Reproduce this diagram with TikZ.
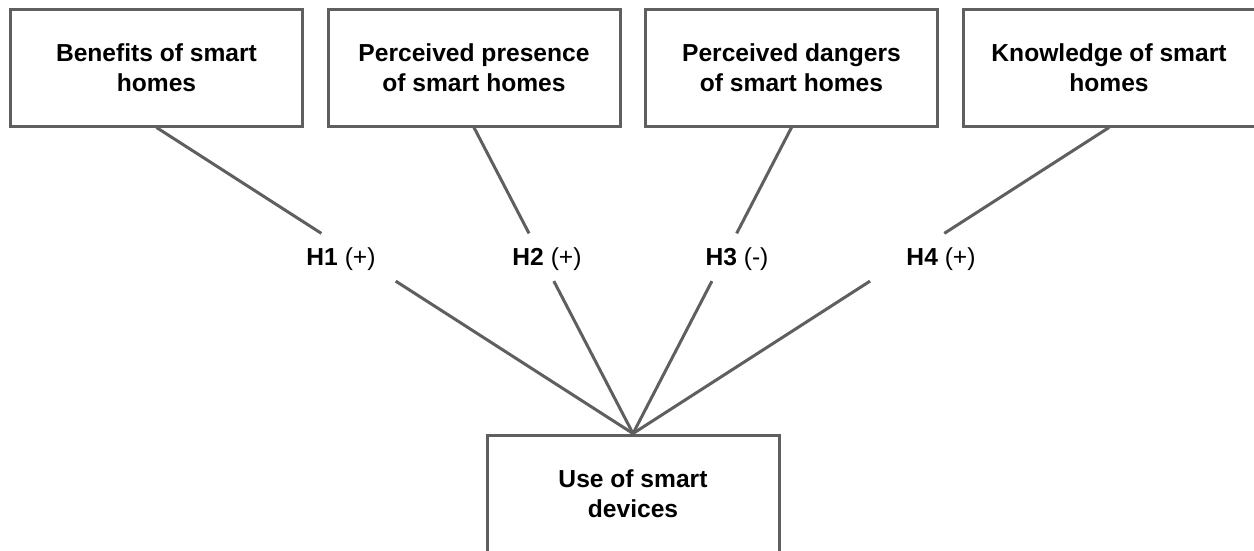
\documentclass[tikz,border=0pt]{standalone}
\usepackage{fontspec}
\setmainfont{Liberation Sans}
\usetikzlibrary{calc}

\definecolor{edgegray}{RGB}{95,95,95}

\tikzset{
    factor/.style={draw=edgegray, line width=3pt, rectangle, minimum width=292pt,
        minimum height=117pt, inner sep=0pt, align=center,
        font=\fontsize{24.6}{30}\selectfont\bfseries},
    hyp/.style={anchor=base, inner sep=0pt, font=\fontsize{24.6}{30}\selectfont},
    link/.style={draw=edgegray, line width=3pt}
}

\begin{document}
\begin{tikzpicture}[x=1pt, y=-1pt]
    \useasboundingbox (0,0) rectangle (1254,550);

    % factors
    \node[factor] (b1) at (156.5,67.5) {Benefits of smart\\homes};
    \node[factor] (b2) at (474,67.5) {Perceived presence\\of smart homes};
    \node[factor] (b3) at (791.5,67.5) {Perceived dangers\\of smart homes};
    \node[factor] (b4) at (1109,67.5) {Knowledge of smart\\homes};

    \node[factor] (use) at (633,493.5) {Use of smart\\devices};

    % hypotheses
    \foreach \i/\x/\sign in {1/341/{(+)}, 2/547/{(+)}, 3/737/{(-)}, 4/941/{(+)}} {
        \node[hyp] (h\i) at (\x,265) {\textbf{H\i} \sign};
        \draw[link] (b\i.south) -- ($(b\i.south)!.346!(use.north)$);
        \draw[link] ($(b\i.south)!.502!(use.north)$) -- (use.north);
    }
\end{tikzpicture}
\end{document}
